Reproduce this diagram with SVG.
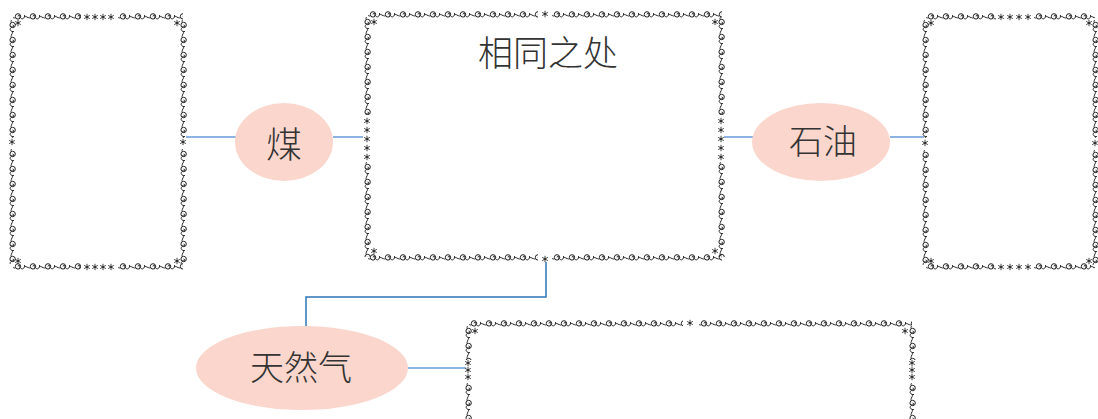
<svg xmlns="http://www.w3.org/2000/svg" width="1098" height="419" viewBox="0 0 1098 419">
  <style>
    .b { fill: url(#curl); }
    .st { fill: none; stroke: #2b2b2b; stroke-width: 0.9; }
    .oval { fill: #FBD6CC; }
    .lbl { font-family: "Noto Sans CJK SC", "Noto Sans", sans-serif; font-weight: 300; fill: #333; text-anchor: middle; }
    .lnk { fill: none; stroke: #8DB3E2; stroke-width: 2; }
    .lnk2 { fill: none; stroke: #2E75B6; stroke-width: 1.5; }
  </style>
  <defs>
    <!-- scroll-work tile used for all frame borders -->
    <pattern id="curl" patternUnits="userSpaceOnUse" x="0" y="-5" width="15" height="10">
      <g fill="none" stroke="#222" stroke-width="1">
        <circle cx="5" cy="4.4" r="2.7"/>
        <path d="M5,4.4 a1,1 0 1 1 1,1"/>
        <path d="M7.5,5.6 C8.8,7.6 10.4,7 11,5.6 S13,4.2 15,5.6"/>
        <path d="M0,5.6 C1,5.6 1.8,6.4 2.5,5.8"/>
        <path d="M11.6,3 v2.2"/>
      </g>
    </pattern>
    <symbol id="star" overflow="visible">
      <path class="st" d="M0,-3.2V3.2M-2.8,-1.6L2.8,1.6M-2.8,1.6L2.8,-1.6"/>
      <circle r="0.9" fill="#2b2b2b"/>
    </symbol>
  </defs>

  <!-- connectors -->
  <g id="connectors">
    <path class="lnk" d="M186,137H236"/>
    <path class="lnk" d="M333,137H363"/>
    <path class="lnk" d="M724,137H753"/>
    <path class="lnk" d="M890,137H924"/>
    <path class="lnk2" d="M546,262V297H306V327"/>
    <path class="lnk" d="M408,368H466"/>
  </g>

  <!-- left frame -->
  <g id="frame-left">
    <rect class="b" x="0" y="-5" width="68" height="10" transform="translate(13,17)"/>
    <use href="#star" x="87" y="17"/><use href="#star" x="95" y="17"/><use href="#star" x="103" y="17"/><use href="#star" x="111" y="17"/>
    <rect class="b" x="0" y="-5" width="65" height="10" transform="translate(118,17)"/>
    <rect class="b" x="0" y="-5" width="68" height="10" transform="translate(13,267)"/>
    <use href="#star" x="87" y="267"/><use href="#star" x="95" y="267"/><use href="#star" x="103" y="267"/><use href="#star" x="111" y="267"/>
    <rect class="b" x="0" y="-5" width="65" height="10" transform="translate(118,267)"/>
    <rect class="b" x="0" y="-5" width="118" height="10" transform="translate(12,20) rotate(90)"/>
    <use href="#star" x="12" y="142"/>
    <rect class="b" x="0" y="-5" width="115" height="10" transform="translate(12,149) rotate(90)"/>
    <rect class="b" x="0" y="-5" width="118" height="10" transform="translate(183,20) rotate(90)"/>
    <use href="#star" x="183" y="142"/>
    <rect class="b" x="0" y="-5" width="115" height="10" transform="translate(183,149) rotate(90)"/>
    <use href="#star" x="18" y="23"/><use href="#star" x="177" y="23"/><use href="#star" x="18" y="261"/><use href="#star" x="177" y="261"/>
  </g>

  <!-- centre frame -->
  <g id="frame-centre">
    <rect class="b" x="0" y="-5" width="170" height="10" transform="translate(368,15)"/>
    <use href="#star" x="545" y="14"/>
    <rect class="b" x="0" y="-5" width="170" height="10" transform="translate(552,15)"/>
    <rect class="b" x="0" y="-5" width="170" height="10" transform="translate(368,258)"/>
    <use href="#star" x="545" y="259"/>
    <rect class="b" x="0" y="-5" width="170" height="10" transform="translate(552,258)"/>
    <rect class="b" x="0" y="-5" width="98" height="10" transform="translate(367,17) rotate(90)"/>
    <use href="#star" x="367" y="121"/><use href="#star" x="367" y="130"/><use href="#star" x="367" y="139"/><use href="#star" x="367" y="148"/><use href="#star" x="367" y="157"/>
    <rect class="b" x="0" y="-5" width="95" height="10" transform="translate(367,162) rotate(90)"/>
    <rect class="b" x="0" y="-5" width="98" height="10" transform="translate(721,17) rotate(90)"/>
    <use href="#star" x="721" y="121"/><use href="#star" x="721" y="130"/><use href="#star" x="721" y="139"/><use href="#star" x="721" y="148"/><use href="#star" x="721" y="157"/>
    <rect class="b" x="0" y="-5" width="95" height="10" transform="translate(721,162) rotate(90)"/>
    <use href="#star" x="374" y="22"/><use href="#star" x="715" y="22"/><use href="#star" x="374" y="251"/><use href="#star" x="715" y="251"/>
    <text class="lbl" x="548" y="66" font-size="35">相同之处</text>
  </g>

  <!-- right frame -->
  <g id="frame-right">
    <rect class="b" x="0" y="-5" width="70" height="10" transform="translate(926,17)"/>
    <use href="#star" x="1001" y="17"/><use href="#star" x="1010" y="17"/><use href="#star" x="1019" y="17"/><use href="#star" x="1028" y="17"/>
    <rect class="b" x="0" y="-5" width="61" height="10" transform="translate(1034,17)"/>
    <rect class="b" x="0" y="-5" width="70" height="10" transform="translate(926,267)"/>
    <use href="#star" x="1001" y="267"/><use href="#star" x="1010" y="267"/><use href="#star" x="1019" y="267"/><use href="#star" x="1028" y="267"/>
    <rect class="b" x="0" y="-5" width="61" height="10" transform="translate(1034,267)"/>
    <rect class="b" x="0" y="-5" width="118" height="10" transform="translate(925,20) rotate(90)"/>
    <use href="#star" x="925" y="143"/>
    <rect class="b" x="0" y="-5" width="115" height="10" transform="translate(925,150) rotate(90)"/>
    <rect class="b" x="0" y="-5" width="118" height="10" transform="translate(1095,20) rotate(90)"/>
    <use href="#star" x="1095" y="143"/>
    <rect class="b" x="0" y="-5" width="115" height="10" transform="translate(1095,150) rotate(90)"/>
    <use href="#star" x="931" y="23"/><use href="#star" x="1089" y="23"/><use href="#star" x="931" y="261"/><use href="#star" x="1089" y="261"/>
  </g>

  <!-- bottom frame -->
  <g id="frame-bottom">
    <rect class="b" x="0" y="-5" width="214" height="10" transform="translate(469,324)"/>
    <use href="#star" x="690" y="323"/>
    <rect class="b" x="0" y="-5" width="213" height="10" transform="translate(699,324)"/>
    <rect class="b" x="0" y="-5" width="34" height="10" transform="translate(468,326) rotate(90)"/>
    <use href="#star" x="468" y="363"/><use href="#star" x="468" y="370"/><use href="#star" x="468" y="377"/>
    <rect class="b" x="0" y="-5" width="40" height="10" transform="translate(468,383) rotate(90)"/>
    <rect class="b" x="0" y="-5" width="34" height="10" transform="translate(912,326) rotate(90)"/>
    <use href="#star" x="912" y="363"/><use href="#star" x="912" y="370"/><use href="#star" x="912" y="377"/>
    <rect class="b" x="0" y="-5" width="40" height="10" transform="translate(912,383) rotate(90)"/>
    <use href="#star" x="475" y="331"/><use href="#star" x="905" y="331"/>
  </g>

  <!-- ovals -->
  <g id="node-coal">
    <ellipse class="oval" cx="284" cy="142" rx="49" ry="39"/>
    <text class="lbl" x="284" y="158" font-size="36">煤</text>
  </g>
  <g id="node-oil">
    <ellipse class="oval" cx="821" cy="142" rx="69" ry="39"/>
    <text class="lbl" x="823" y="154" font-size="34">石油</text>
  </g>
  <g id="node-gas">
    <ellipse class="oval" cx="302" cy="368" rx="106" ry="42"/>
    <text class="lbl" x="301" y="380" font-size="34">天然气</text>
  </g>
</svg>
